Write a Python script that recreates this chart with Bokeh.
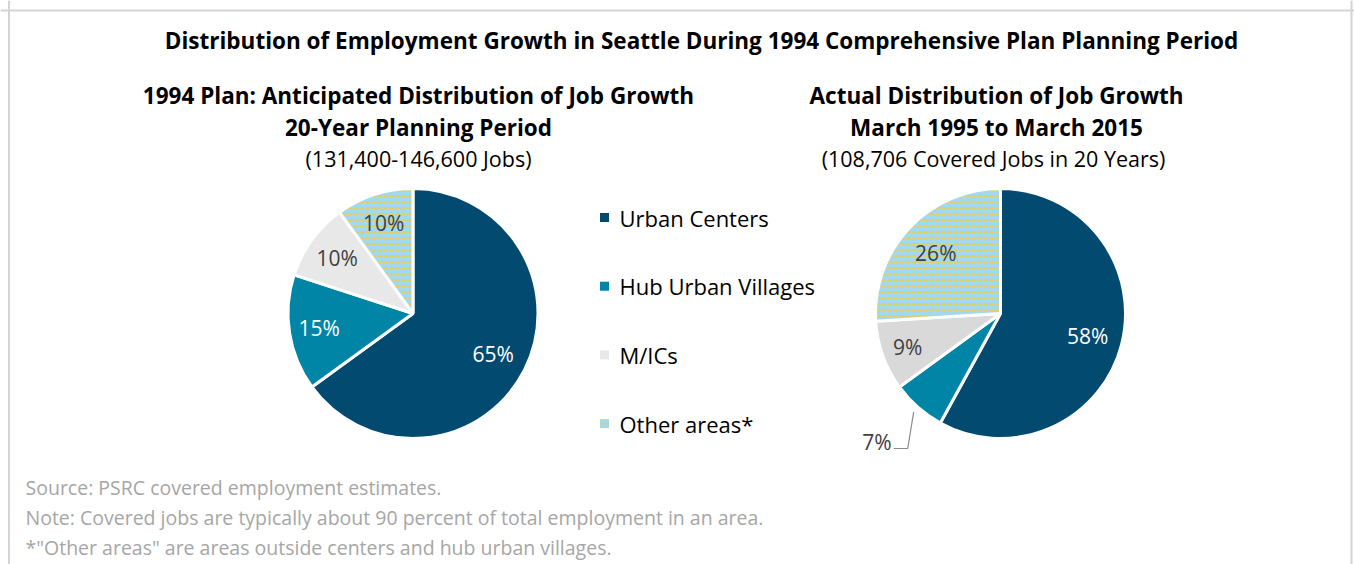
import numpy as np
from bokeh.plotting import figure
from bokeh.models import Range1d, Span
from bokeh.core.properties import value
from bokeh.embed import file_html
from bokeh.resources import INLINE

# ---------------- data ----------------
categories = ["Urban Centers", "Hub Urban Villages", "M/ICs", "Other areas*"]
plan_pct = [65, 15, 10, 10]
actual_pct = [58, 7, 9, 26]
plan_labels = ["65%", "15%", "10%", "10%"]
actual_labels = ["58%", "7%", "9%", "26%"]

main_title = "Distribution of Employment Growth in Seattle During 1994 Comprehensive Plan Planning Period"
plan_title = ["1994 Plan: Anticipated Distribution of Job Growth", "20-Year Planning Period"]
plan_sub = "(131,400-146,600 Jobs)"
actual_title = ["Actual Distribution of Job Growth", "March 1995 to March 2015"]
actual_sub = "(108,706 Covered Jobs in 20 Years)"
notes = [
    "Source: PSRC covered employment estimates.",
    "Note: Covered jobs are typically about 90 percent of total employment in an area.",
    "*\"Other areas\" are areas outside centers and hub urban villages.",
]

# ---------------- style ----------------
FONT = "Open Sans"
DARK = "#024a70"
HUB = "#0085a6"
GRAY_L = "#e8e8e8"
GRAY_R = "#d9d9d9"
LBLUE = "#a3d9ef"
YEL = "#f2cd3c"
plan_fills = [DARK, HUB, GRAY_L, LBLUE]
actual_fills = [DARK, HUB, GRAY_R, LBLUE]
hatches = [None, None, None, "horizontal_dash"]
label_colors = ["white", "white", "#404040", "#404040"]

W, H = 1354, 564


def X(px):
    return px


def Y(py):
    return H - py


p = figure(width=W, height=H, x_range=Range1d(0, W), y_range=Range1d(0, H),
           output_backend="svg", toolbar_location=None, min_border=0,
           x_axis_location=None, y_axis_location=None)
p.grid.visible = False
p.outline_line_color = None
p.background_fill_color = "white"
p.border_fill_color = "white"

# frame border (top, left, right)
for loc, dim in [(Y(10), "width"), (X(8.5), "height"), (X(1351), "height")]:
    p.add_layout(Span(location=loc, dimension=dim, line_color="#d4d4d4", line_width=2))


def txt(x, y, s, size, bold=False, color="black", align="center"):
    p.text(x=[x], y=[y], text=[s], text_font=value(FONT), text_font_size=f"{size}px",
           text_font_style="bold" if bold else "normal", text_color=color,
           text_align=align, text_baseline="middle")


def draw_pie(cx, cy, r, values, labels, fills, fracs):
    v = np.array(values, dtype=float)
    frac = v / v.sum()
    cum = np.concatenate([[0.0], np.cumsum(frac)])
    starts = np.pi / 2 - 2 * np.pi * cum[1:]
    ends = np.pi / 2 - 2 * np.pi * cum[:-1]
    mids = np.pi / 2 - 2 * np.pi * (cum[:-1] + cum[1:]) / 2
    for i in range(len(v)):
        kw = {}
        if hatches[i]:
            kw = dict(hatch_pattern=hatches[i], hatch_color=YEL, hatch_scale=6, hatch_weight=1.6)
        p.wedge(x=[cx], y=[cy], radius=r, start_angle=starts[i], end_angle=ends[i],
                fill_color=fills[i], line_color="white", line_width=3, **kw)
    for i in range(len(v)):
        if fracs[i] is None:
            continue
        lx = cx + fracs[i] * r * np.cos(mids[i])
        ly = cy + fracs[i] * r * np.sin(mids[i])
        txt(lx, ly, labels[i], 21, color=label_colors[i])
    return mids


# titles
txt(X(701), Y(40), main_title, 22.5, bold=True)
txt(X(418), Y(95), plan_title[0], 22.5, bold=True)
txt(X(418), Y(127), plan_title[1], 22.5, bold=True)
txt(X(418), Y(158), plan_sub, 21.5)
txt(X(996), Y(95), actual_title[0], 22.5, bold=True)
txt(X(996), Y(127), actual_title[1], 22.5, bold=True)
txt(X(993), Y(158), actual_sub, 21.5)

# pies
R = 125
draw_pie(X(412.5), Y(313), R, plan_pct, plan_labels, plan_fills, [0.72, 0.76, 0.75, 0.76])
cxr, cyr = X(1000), Y(313)
mids_r = draw_pie(cxr, cyr, R, actual_pct, actual_labels, actual_fills, [0.72, None, 0.79, 0.71])

# outside label with leader for small slice
sx = cxr + 1.05 * R * np.cos(mids_r[1])
sy = cyr + 1.05 * R * np.sin(mids_r[1])
ey = cyr - 1.08 * R
p.line(x=[sx, sx - 6, sx - 20], y=[sy, ey, ey], line_color="#8c8c8c", line_width=1.2)
txt(sx - 22, ey + 7, actual_labels[1], 21, color="#404040", align="right")

# legend
leg_top, leg_step = Y(217), 68.7
for i, c in enumerate(categories):
    yy = leg_top - i * leg_step
    kw = {}
    if hatches[i]:
        kw = dict(hatch_pattern=hatches[i], hatch_color=YEL, hatch_scale=5, hatch_weight=1.5)
    p.rect(x=[X(604)], y=[yy], width=9, height=9, fill_color=plan_fills[i], line_color=None, **kw)
    txt(X(619), yy, c, 22, align="left")

# notes
for i, n in enumerate(notes):
    txt(X(25), Y(487 + 30 * i), n, 19.5, color="#a6a6a6", align="left")

open("out.html", "w").write(file_html(p, INLINE))
